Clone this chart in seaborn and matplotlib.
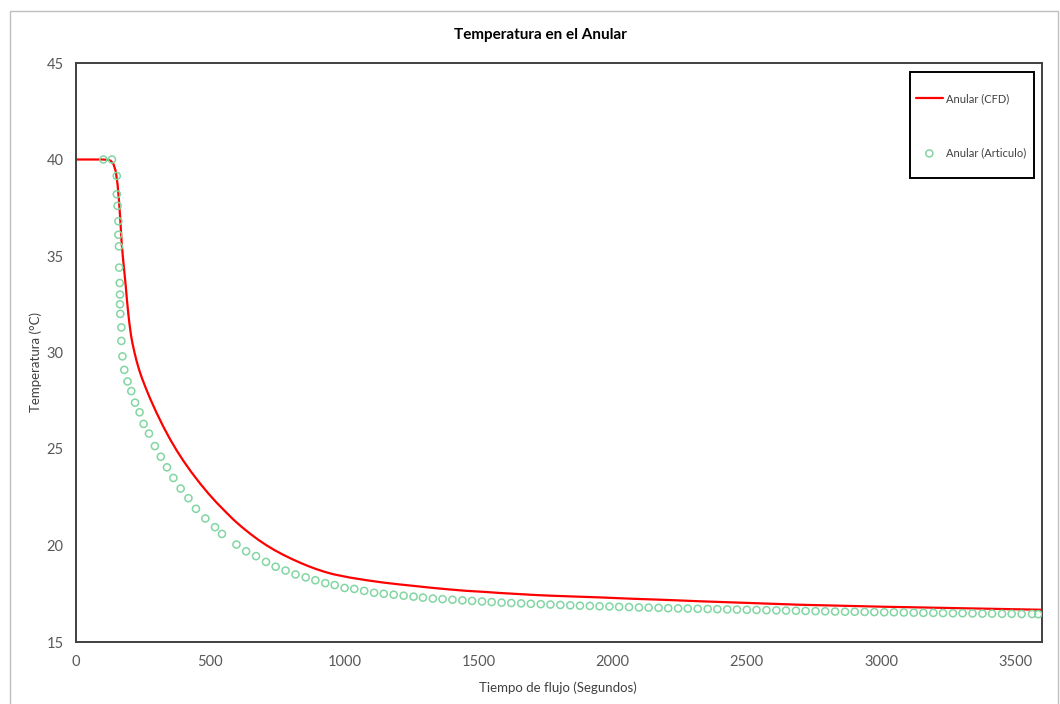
import matplotlib
matplotlib.use("Agg")
import matplotlib.pyplot as plt
from matplotlib.patches import Rectangle
import seaborn as sns
import pandas as pd

# Anular (CFD) - linea roja
cfd_t = [0, 100, 120, 130, 140, 148, 155, 160, 165, 170, 175, 180, 185, 190, 195,
         200, 205, 210, 218, 226, 235, 245, 260, 276, 300, 325, 350, 375, 400, 430,
         462, 493, 524, 555, 586, 617, 649, 680, 710, 740, 772, 803, 835, 866, 897,
         928, 959, 1020, 1083, 1145, 1208, 1270, 1332, 1394, 1456, 1518, 1580, 1642,
         1705, 1767, 1829, 1891, 1953, 2075, 2200, 2325, 2450, 2575, 2698, 2850, 3000,
         3150, 3300, 3450, 3600]
cfd_T = [40.0, 40.0, 39.98, 39.93, 39.75, 39.4, 38.7, 37.9, 36.9, 35.7, 34.9, 34.2,
         33.5, 32.7, 32.0, 31.4, 30.9, 30.5, 30.0, 29.55, 29.12, 28.7, 28.16, 27.62,
         26.88, 26.17, 25.52, 24.93, 24.39, 23.8, 23.22, 22.7, 22.22, 21.78, 21.35, 20.97,
         20.61, 20.29, 20.01, 19.76, 19.52, 19.31, 19.11, 18.93, 18.77, 18.63, 18.51,
         18.34, 18.2, 18.08, 17.98, 17.89, 17.8, 17.72, 17.65, 17.6, 17.54, 17.49,
         17.44, 17.4, 17.37, 17.34, 17.31, 17.24, 17.18, 17.11, 17.05, 16.99, 16.93,
         16.88, 16.83, 16.79, 16.75, 16.71, 16.67]

# Anular (Articulo) - circulos verdes
art_t = [102, 134, 152, 152, 155, 158, 158, 160, 161, 163, 164, 164, 165, 169, 169,
         173, 180, 192, 206, 220, 237, 252, 272, 294, 316, 339, 363, 390, 419, 447,
         482, 518, 544, 598, 634, 671, 708, 744, 781, 818, 856, 892, 929, 964, 1001,
         1037, 1074, 1111, 1147, 1184, 1221, 1258, 1293, 1330, 1366, 1403, 1440, 1476,
         1513, 1549, 1586, 1622, 1659, 1695, 1732, 1768, 1805, 1842, 1878, 1915, 1951,
         1988, 2024, 2061, 2098, 2134, 2171, 2207, 2244, 2280, 2317, 2354, 2390, 2427,
         2463, 2500, 2536, 2573, 2610, 2646, 2683, 2719, 2756, 2792, 2829, 2866, 2902,
         2939, 2975, 3012, 3048, 3085, 3122, 3158, 3195, 3231, 3268, 3304, 3341, 3378,
         3414, 3451, 3487, 3524, 3563, 3586]
art_T = [40.0, 40.0, 39.15, 38.2, 37.6, 36.8, 36.1, 35.5, 34.4, 33.6, 33.0, 32.5, 32.0,
         31.3, 30.6, 29.8, 29.1, 28.5, 28.0, 27.4, 26.9, 26.3, 25.8, 25.15, 24.6, 24.05,
         23.5, 22.95, 22.45, 21.9, 21.4, 20.95, 20.6, 20.05, 19.7, 19.45, 19.15, 18.9,
         18.7, 18.5, 18.35, 18.2, 18.05, 17.95, 17.8, 17.75, 17.65, 17.55, 17.5, 17.45,
         17.4, 17.35, 17.3, 17.25, 17.22, 17.19, 17.16, 17.13, 17.10, 17.07, 17.04, 17.02,
         17.0, 16.98, 16.96, 16.94, 16.92, 16.9, 16.88, 16.87, 16.85, 16.84, 16.82, 16.81,
         16.79, 16.78, 16.77, 16.75, 16.74, 16.73, 16.72, 16.71, 16.7, 16.69, 16.68, 16.67,
         16.66, 16.65, 16.64, 16.63, 16.62, 16.61, 16.6, 16.59, 16.58, 16.57, 16.57, 16.56,
         16.55, 16.54, 16.54, 16.53, 16.52, 16.51, 16.51, 16.5, 16.49, 16.49, 16.48, 16.47,
         16.47, 16.46, 16.46, 16.45, 16.45, 16.44]

xticks = [0, 500, 1000, 1500, 2000, 2500, 3000, 3500]
yticks = [15, 20, 25, 30, 35, 40, 45]

sns.set_style("white")
plt.rcParams['font.family'] = ['Lato', 'DejaVu Sans']

df_cfd = pd.DataFrame({'t': cfd_t, 'T': cfd_T})
df_art = pd.DataFrame({'t': art_t, 'T': art_T})

fig = plt.figure(figsize=(10.6, 7.04), dpi=100)
ax = fig.add_axes([76 / 1060, 1 - 642 / 704, (1042 - 76) / 1060, (642 - 63) / 704])

sns.lineplot(data=df_cfd, x='t', y='T', color='#ff0000', linewidth=1.6,
             label='Anular (CFD)', ax=ax)
sns.scatterplot(data=df_art, x='t', y='T', marker='o', s=26, color='#82d6a2',
                facecolor='none', edgecolor='#82d6a2', linewidth=1.1,
                label='Anular (Articulo)', ax=ax, zorder=3)

ax.set_xlim(0, 3600)
ax.set_ylim(15, 45)
ax.set_xticks(xticks)
ax.set_yticks(yticks)
ax.tick_params(length=0, labelsize=10.5, labelcolor='#595959', pad=9)
for s in ax.spines.values():
    s.set_color('#404040')
    s.set_linewidth(1.4)

ax.set_xlabel('Tiempo de flujo (Segundos)', fontsize=9.5, color='#404040')
ax.set_ylabel('Temperatura (°C)', fontsize=9.5, color='#404040')
ax.xaxis.set_label_coords((558 - 76) / (1042 - 76), -(681 - 642) / (642 - 63))
ax.yaxis.set_label_coords(-(76 - 42) / (1042 - 76), (642 - 362) / (642 - 63))
fig.text(540 / 1060, 1 - 35 / 704, 'Temperatura en el Anular', ha='center', va='center',
         fontsize=11, fontweight='bold', color='black')

h, l = ax.get_legend_handles_labels()
leg = ax.legend(h, l, loc='upper left', bbox_to_anchor=(916 / 1060, 1 - 93 / 704),
                bbox_transform=fig.transFigure, frameon=False, fontsize=8,
                labelspacing=3.9, handlelength=2.4, handletextpad=0.3,
                borderpad=0, borderaxespad=0)
for t in leg.get_texts():
    t.set_color('#404040')

fig.patches.append(Rectangle((910 / 1060, 1 - 178 / 704), 124 / 1060, 106 / 704,
                             transform=fig.transFigure, fill=False,
                             edgecolor='black', linewidth=1.4))
fig.patches.append(Rectangle((10 / 1060, -0.05), 1048 / 1060, 1.05 - 11 / 704,
                             transform=fig.transFigure, fill=False,
                             edgecolor='#bfbfbf', linewidth=1))

fig.savefig('out.png', dpi=100)
